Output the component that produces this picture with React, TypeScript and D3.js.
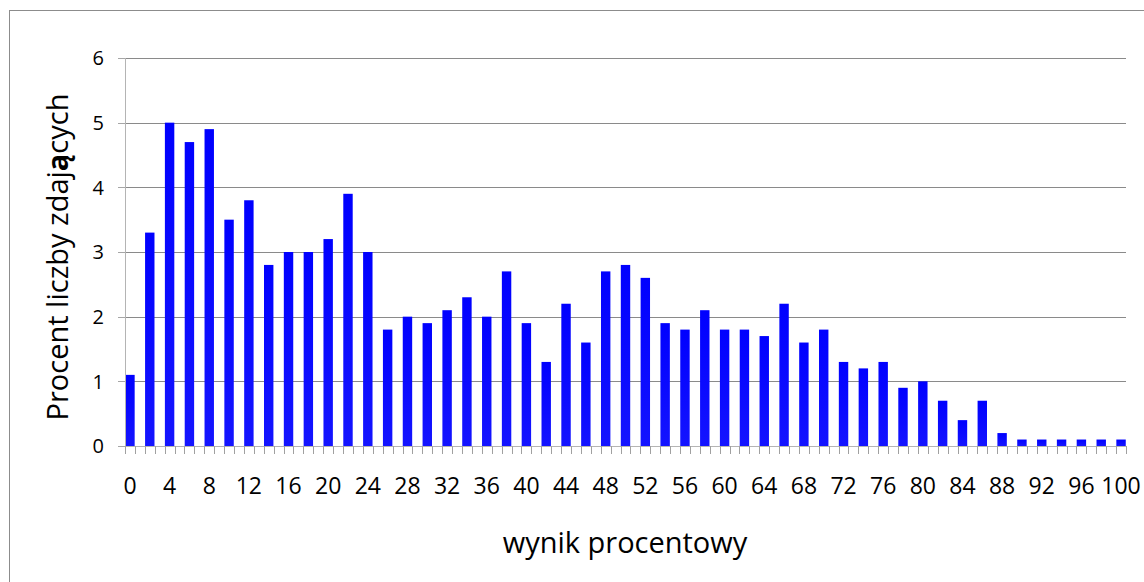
import React from "react";
import * as d3 from "d3";

const scores = [0,2,4,6,8,10,12,14,16,18,20,22,24,26,28,30,32,34,36,38,40,42,44,46,48,50,52,54,56,58,60,62,64,66,68,70,72,74,76,78,80,82,84,86,88,90,92,94,96,98,100];
const percents = [1.1,3.3,5.0,4.7,4.9,3.5,3.8,2.8,3.0,3.0,3.2,3.9,3.0,1.8,2.0,1.9,2.1,2.3,2.0,2.7,1.9,1.3,2.2,1.6,2.7,2.8,2.6,1.9,1.8,2.1,1.8,1.8,1.7,2.2,1.6,1.8,1.3,1.2,1.3,0.9,1.0,0.7,0.4,0.7,0.2,0.1,0.1,0.1,0.1,0.1,0.1];
const yTicks = [0,1,2,3,4,5,6];
const xLabels = [0,4,8,12,16,20,24,28,32,36,40,44,48,52,56,60,64,68,72,76,80,84,88,92,96,100];
const xTitle = "wynik procentowy";
const yTitleA = "Procent liczby zdaj";
const yTitleB = "ą";
const yTitleC = "cych";

const W = 1144, H = 582;
const left = 125, right = 1126, top = 58, bottom = 446;
const font = "'Open Sans', 'Liberation Sans', sans-serif";

export default function App() {
  const x = d3.scaleLinear().domain([-0.5, 100.5]).range([left, right]);
  const y = d3.scaleLinear().domain([0, 6]).range([bottom, top]);
  const unit = x(1) - x(0);
  const bw = unit * 0.95;
  const boundaries = d3.range(0, 102).map((k) => k - 0.5);

  return (
    <svg width={W} height={H} style={{ position: "absolute", left: 0, top: 0, background: "#fff" }}>
      <defs>
        <linearGradient id="barg" x1="0" y1="0" x2="0" y2="1">
          <stop offset="0" stopColor="#0000ff" />
          <stop offset="1" stopColor="#1414ff" />
        </linearGradient>
      </defs>
      <rect x={9.5} y={10.5} width={W} height={H} fill="#fff" stroke="#8c8c8c" />
      {yTicks.map((t) => (
        <g key={t}>
          {t > 0 && (
            <line x1={left} x2={right} y1={Math.round(y(t)) + 0.5} y2={Math.round(y(t)) + 0.5} stroke="#8a8a8a" />
          )}
          <line x1={118} x2={left} y1={Math.round(y(t)) + 0.5} y2={Math.round(y(t)) + 0.5} stroke="#a6a6a6" />
          <text x={104} y={y(t)} dy="0.36em" textAnchor="end" fontFamily={font} fontSize={20} fill="#000">
            {t}
          </text>
        </g>
      ))}
      {scores.map((s, i) => (
        <rect key={s} x={x(s) - bw / 2} y={y(percents[i])} width={bw} height={y(0) - y(percents[i])} fill="url(#barg)" />
      ))}
      <line x1={left + 0.5} x2={left + 0.5} y1={top} y2={bottom} stroke="#b4b4b4" />
      <line x1={left} x2={right} y1={bottom + 0.5} y2={bottom + 0.5} stroke="#b4b4b4" />
      {boundaries.map((b) => (
        <line key={b} x1={Math.round(x(b)) + 0.5} x2={Math.round(x(b)) + 0.5} y1={bottom} y2={bottom + 8} stroke="#a0a0a0" />
      ))}
      {xLabels.map((l) => (
        <text key={l} x={x(l)} y={494} textAnchor="middle" fontFamily={font} fontSize={23} fill="#000">
          {l}
        </text>
      ))}
      <text x={625} y={553} textAnchor="middle" fontFamily={font} fontSize={29} fill="#000">
        {xTitle}
      </text>
      <text transform={`translate(68,257) rotate(-90)`} textAnchor="middle" fontFamily={font} fontSize={29} fill="#000">
        {yTitleA}
        <tspan fontWeight="bold">{yTitleB}</tspan>
        {yTitleC}
      </text>
    </svg>
  );
}
